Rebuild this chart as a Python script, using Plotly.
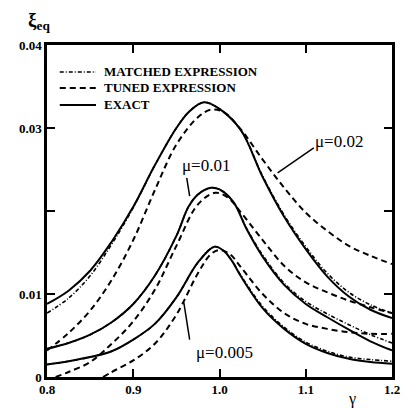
import plotly.graph_objects as go

# ---- data ----
g_002 = [0.80, 0.825, 0.85, 0.875, 0.90, 0.925, 0.95, 0.965, 0.982, 1.0, 1.025, 1.05, 1.075, 1.10, 1.125, 1.15, 1.175, 1.20]
exact_002 = [0.0088, 0.0104, 0.0128, 0.0163, 0.0205, 0.0255, 0.0300, 0.0320, 0.0331, 0.0323, 0.0297, 0.0241, 0.0193, 0.0154, 0.0121, 0.0097, 0.0081, 0.0071]
matched_002 = [0.0077, 0.0095, 0.0122, 0.0160, 0.0204, 0.0255, 0.0300, 0.0320, 0.0331, 0.0323, 0.0297, 0.0242, 0.0195, 0.0157, 0.0125, 0.0102, 0.0087, 0.0077]
g_t002 = [0.80, 0.825, 0.85, 0.875, 0.90, 0.925, 0.95, 0.975, 0.99, 1.005, 1.025, 1.05, 1.075, 1.10, 1.125, 1.15, 1.175, 1.20]
tuned_002 = [0.0032, 0.0053, 0.0080, 0.0117, 0.0165, 0.0225, 0.0280, 0.0313, 0.0322, 0.0319, 0.0298, 0.0262, 0.0228, 0.0198, 0.0176, 0.0158, 0.0146, 0.0136]

g_001 = [0.80, 0.825, 0.85, 0.875, 0.90, 0.925, 0.95, 0.964, 0.975, 0.99, 1.0, 1.016, 1.032, 1.05, 1.075, 1.10, 1.125, 1.15, 1.175, 1.20]
exact_001 = [0.0034, 0.0041, 0.0051, 0.0066, 0.0088, 0.0122, 0.0170, 0.0205, 0.0220, 0.0228, 0.0226, 0.0211, 0.0177, 0.0145, 0.0111, 0.0088, 0.0072, 0.0057, 0.0043, 0.0032]
matched_001 = [0.0034, 0.0041, 0.0051, 0.0066, 0.0088, 0.0122, 0.0170, 0.0205, 0.0220, 0.0228, 0.0226, 0.0211, 0.0178, 0.0147, 0.0113, 0.0091, 0.0076, 0.0063, 0.0051, 0.0041]
g_t001 = [0.81, 0.825, 0.85, 0.875, 0.90, 0.925, 0.95, 0.975, 0.995, 1.01, 1.025, 1.05, 1.075, 1.10, 1.125, 1.15, 1.175, 1.20]
tuned_001 = [0.0000, 0.0006, 0.0018, 0.0040, 0.0067, 0.0105, 0.0158, 0.0208, 0.0222, 0.0216, 0.0198, 0.0165, 0.0134, 0.0114, 0.0102, 0.0092, 0.0084, 0.0077]

g_0005 = [0.80, 0.825, 0.85, 0.875, 0.90, 0.925, 0.95, 0.975, 0.994, 1.005, 1.015, 1.025, 1.05, 1.075, 1.10, 1.125, 1.15, 1.175, 1.20]
exact_0005 = [0.0015, 0.0019, 0.0024, 0.0031, 0.0045, 0.0064, 0.0096, 0.0138, 0.0157, 0.0152, 0.0139, 0.0121, 0.0083, 0.0058, 0.0040, 0.0029, 0.0022, 0.0018, 0.0016]
matched_0005 = [0.0015, 0.0019, 0.0024, 0.0031, 0.0045, 0.0064, 0.0096, 0.0138, 0.0157, 0.0152, 0.0139, 0.0122, 0.0085, 0.0060, 0.0042, 0.0031, 0.0024, 0.0021, 0.0019]
g_t0005 = [0.865, 0.875, 0.90, 0.925, 0.95, 0.975, 0.99, 1.0, 1.012, 1.025, 1.05, 1.075, 1.10, 1.125, 1.15, 1.175, 1.20]
tuned_0005 = [0.0000, 0.0006, 0.0020, 0.0040, 0.0075, 0.0125, 0.0148, 0.0153, 0.0148, 0.0132, 0.0100, 0.0077, 0.0064, 0.0058, 0.0054, 0.0052, 0.0052]

x_ticks = [0.8, 0.9, 1.0, 1.1, 1.2]
x_ticktext = ["0.8", "0.9", "1.0", "1.1", "1.2"]
y_ticks = [0, 0.01, 0.03, 0.04]
y_ticktext = ["0", "0.01", "0.03", "0.04"]
y_unlabeled_ticks = [0.02]

legend_names = ["MATCHED EXPRESSION", "TUNED EXPRESSION", "EXACT"]

# labels: (text, text_x, text_y, pointer_x0, pointer_y0, pointer_x1, pointer_y1)
mu_labels = [
    ("\u03bc=0.02", 1.1390, 0.0284, 1.1093, 0.0276, 1.0674, 0.02458),
    ("\u03bc=0.01", 0.9840, 0.0255, 0.9620, 0.0240, 0.9654, 0.0218),
    ("\u03bc=0.005", 1.0060, 0.0029, 0.9586, 0.0090, 0.9654, 0.0045),
]

SERIF = "Liberation Serif"
BLACK = "black"
MATCH_DASH = "4px,2px,1px,2px"
TUNED_DASH = "6px,4px"
styles = [dict(width=1.6, dash=MATCH_DASH), dict(width=2, dash=TUNED_DASH), dict(width=2, dash="solid")]

fig = go.Figure()

groups = [
    [(g_002, matched_002), (g_001, matched_001), (g_0005, matched_0005)],
    [(g_t002, tuned_002), (g_t001, tuned_001), (g_t0005, tuned_0005)],
    [(g_002, exact_002), (g_001, exact_001), (g_0005, exact_0005)],
]

for k, sets in enumerate(groups):
    for gx, vy in sets:
        fig.add_trace(go.Scatter(x=gx, y=vy, mode="lines", name=legend_names[k], showlegend=False,
                                 line=dict(color=BLACK, shape="spline", smoothing=1.0, **styles[k])))

# manual legend (key lines + text), paper coordinates
legend_rows_y = [0.9187, 0.8705, 0.8193]
for k, name in enumerate(legend_names):
    fig.add_shape(type="line", xref="paper", yref="paper", x0=0.037, x1=0.142,
                  y0=legend_rows_y[k], y1=legend_rows_y[k],
                  line=dict(color=BLACK, **styles[k]))
    fig.add_annotation(x=0.158, y=legend_rows_y[k], xref="paper", yref="paper",
                       xanchor="left", yanchor="middle", text=name, showarrow=False,
                       font=dict(family=SERIF, size=13, color=BLACK, weight="bold"))

for text, tx, ty, px0, py0, px1, py1 in mu_labels:
    fig.add_annotation(x=tx, y=ty, xref="x", yref="y", text=text, showarrow=False,
                       font=dict(family=SERIF, size=17, color=BLACK))
    fig.add_shape(type="line", xref="x", yref="y", x0=px0, y0=py0, x1=px1, y1=py1,
                  line=dict(color=BLACK, width=1.5))

fig.add_annotation(x=-0.06, y=1.072, xref="paper", yref="paper", xanchor="left", yanchor="middle",
                   text="<b>\u03be<sub>eq</sub></b>", showarrow=False,
                   font=dict(family=SERIF, size=19, color=BLACK))
fig.add_annotation(x=0.885, y=-0.066, xref="paper", yref="paper", xanchor="center", yanchor="middle",
                   text="\u03b3", showarrow=False,
                   font=dict(family=SERIF, size=16, color=BLACK))

axis_common = dict(ticks="inside", ticklen=8, tickwidth=2, tickcolor=BLACK,
                   showline=True, linewidth=2.5, linecolor=BLACK, mirror="ticks",
                   showgrid=False, zeroline=False,
                   tickfont=dict(family=SERIF, size=13, color=BLACK, weight="bold"))

fig.update_layout(
    width=407, height=408,
    margin=dict(l=47, r=7, t=45, b=31),
    paper_bgcolor="white", plot_bgcolor="white",
    xaxis=dict(range=[0.8, 1.2], tickvals=x_ticks, ticktext=x_ticktext, ticklabelstandoff=-1, **axis_common),
    yaxis=dict(range=[0, 0.04], tickvals=y_ticks, ticktext=y_ticktext,
               minor=dict(tickmode="array", tickvals=y_unlabeled_ticks, ticks="inside",
                          ticklen=8, tickwidth=2, tickcolor=BLACK, showgrid=False),
               **axis_common),
    showlegend=False,
)

fig.write_html("out.html")
